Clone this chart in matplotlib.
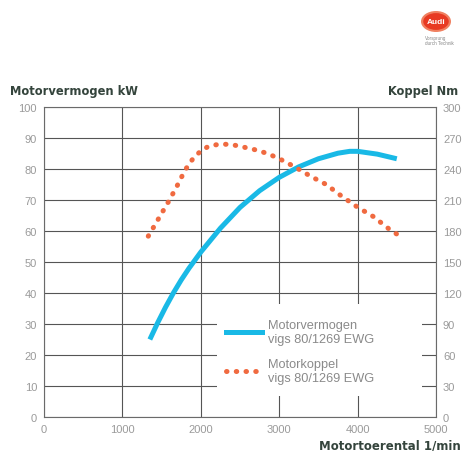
import matplotlib
matplotlib.use("Agg")
import matplotlib.pyplot as plt
from matplotlib.patches import Rectangle, Ellipse
from matplotlib.lines import Line2D

plt.rcParams['font.family'] = ['Liberation Sans', 'DejaVu Sans']

# engine speed (1/min) and power (kW)
rpm_power = [1350, 1450, 1550, 1650, 1750, 1850, 2000, 2250, 2500, 2750,
             3000, 3250, 3500, 3750, 3900, 4000, 4250, 4500]
power_kw = [25.0, 30.4, 35.4, 40.0, 44.2, 48.0, 53.2, 60.9, 67.6, 73.0,
            77.3, 80.7, 83.3, 85.1, 85.7, 85.7, 84.8, 83.3]

# engine speed (1/min) and torque (Nm)
rpm_torque = [1330, 1400, 1500, 1600, 1700, 1800, 1900, 2000, 2100, 2200,
              2300, 2400, 2500, 2700, 2850, 3000, 3200, 3400, 3600, 3800,
              4000, 4200, 4400, 4500]
torque_nm = [175, 184, 197, 210, 224, 239, 250, 257.5, 262, 263.5,
             264, 263.5, 262, 258.5, 255, 250, 242, 233, 225, 213.5,
             203, 194, 182, 177]

kw_ticks = list(range(0, 101, 10))
nm_ticks = list(range(0, 301, 30))
rpm_ticks = list(range(0, 5001, 1000))

cyan = '#19b9e6'
orange = '#f06a40'
tick_grey = '#9a9a9a'
title_col = '#34443c'

fig = plt.figure(figsize=(4.7, 4.52), dpi=100)
ax = fig.add_axes([44 / 470, 34 / 452, 392 / 470, 310 / 452])
ax.set_xlim(0, 5000)
ax.set_ylim(0, 100)
ax.set_xticks(rpm_ticks)
ax.set_yticks(kw_ticks)
ax.grid(True, color='#555555', linewidth=0.8)
ax.set_axisbelow(True)
for s in ax.spines.values():
    s.set_color('#6a6a6a')
    s.set_linewidth(0.8)
ax.tick_params(length=0, labelsize=8, labelcolor=tick_grey, pad=5)

ax2 = ax.twinx()
ax2.set_ylim(0, 300)
ax2.set_yticks(nm_ticks)
ax2.tick_params(length=0, labelsize=8, labelcolor=tick_grey, pad=5)
for s in ax2.spines.values():
    s.set_visible(False)

# white box behind the legend, hides the grid
ax.add_patch(Rectangle((2210, 6.8), 2610, 29.7, facecolor='white',
                       edgecolor='none', zorder=1.5))

ax.plot(rpm_power, power_kw, color=cyan, linewidth=3.6,
        solid_capstyle='butt', solid_joinstyle='round', zorder=3)
ax2.plot(rpm_torque, torque_nm, color=orange, linewidth=3.6,
         linestyle=(0, (0.1, 1.85)), dash_capstyle='round', zorder=3)

handles = [Line2D([], [], color=cyan, linewidth=3.6),
           Line2D([], [], color=orange, linewidth=3.6,
                  linestyle=(0, (0.1, 1.85)), dash_capstyle='round')]
labels = ['Motorvermogen\nvigs 80/1269 EWG', 'Motorkoppel\nvigs 80/1269 EWG']
leg = ax2.legend(handles, labels, loc='upper left',
                 bbox_to_anchor=((221 - 44) / 392, (418 - 315) / 310),
                 frameon=False, fontsize=9.2, handlelength=2.8,
                 handletextpad=0.47, labelspacing=1.05, borderaxespad=0)
for t in leg.get_texts():
    t.set_color('#8a8a8a')

fig.text(10 / 470, 1 - 92 / 452, 'Motorvermogen kW', fontsize=8.3,
         fontweight='bold', color=title_col, va='center', ha='left',
         family='DejaVu Sans')
fig.text(458 / 470, 1 - 92 / 452, 'Koppel Nm', fontsize=8.3,
         fontweight='bold', color=title_col, va='center', ha='right',
         family='DejaVu Sans')
fig.text(461 / 470, 1 - 446 / 452, 'Motortoerental 1/min', fontsize=8.5,
         fontweight='bold', color=title_col, va='center', ha='right',
         family='DejaVu Sans')

# logo
lax = fig.add_axes([421 / 470, 1 - 33 / 452, 30 / 470, 21 / 452])
lax.set_xlim(0, 1)
lax.set_ylim(0, 1)
lax.axis('off')
lax.add_patch(Ellipse((0.5, 0.5), 1.0, 1.0, facecolor='#f08060', edgecolor='none'))
lax.add_patch(Ellipse((0.5, 0.5), 0.85, 0.8, facecolor='#e83a22', edgecolor='none'))
lax.text(0.5, 0.5, 'Audi', color='white', fontsize=6, fontweight='bold',
         ha='center', va='center')
fig.text(425 / 470, 1 - 41 / 452, 'Vorsprung\ndurch Technik', fontsize=3.3,
         color='#888888', ha='left', va='center', linespacing=1.1)

fig.savefig('out.png', dpi=100, facecolor='white')
